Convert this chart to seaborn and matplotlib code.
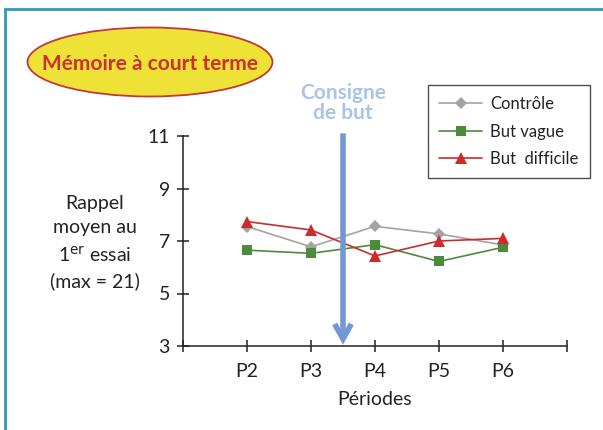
import matplotlib
matplotlib.use("Agg")
import matplotlib.pyplot as plt
from matplotlib.patches import Ellipse
from matplotlib.lines import Line2D
import pandas as pd
import seaborn as sns

# Recall scores per period for each goal condition
periods = ["P2", "P3", "P4", "P5", "P6"]
controle = [7.55, 6.78, 7.56, 7.27, 6.85]
but_vague = [6.65, 6.53, 6.86, 6.22, 6.76]
but_difficile = [7.74, 7.42, 6.43, 7.00, 7.10]
series_names = ["Contrôle", "But vague", "But  difficile"]
y_ticks = [3, 5, 7, 9, 11]

sns.set_theme(style="white")
plt.rcParams["font.family"] = ["Lato", "DejaVu Sans"]

df = pd.DataFrame({
    "Période": periods * 3,
    "Rappel": controle + but_vague + but_difficile,
    "Groupe": [series_names[0]] * 5 + [series_names[1]] * 5 + [series_names[2]] * 5,
})

fig = plt.figure(figsize=(6.03, 4.30), dpi=100)
ax = fig.add_axes([183 / 603, 1 - 346 / 430, (567 - 183) / 603, (346 - 136) / 430])

palette = {series_names[0]: "#a3a3a3", series_names[1]: "#4b8b3b", series_names[2]: "#cc2b2b"}
markers = {series_names[0]: "D", series_names[1]: "s", series_names[2]: "^"}
sizes = {series_names[0]: 6, series_names[1]: 7, series_names[2]: 9}

sns.lineplot(data=df, x="Période", y="Rappel", hue="Groupe", style="Groupe",
             palette=palette, markers=markers, dashes=False, linewidth=1.2,
             markersize=7, markeredgewidth=0, ax=ax, legend=False, sort=False)
for line, name in zip(ax.lines, series_names):
    line.set_markersize(sizes[name])

ax.set_xlim(-1, 5)
ax.set_ylim(3, 11)
ax.set_xticks(range(-1, 6))
ax.set_xticklabels([""] + periods + [""], fontsize=14, color="#222222")
ax.set_yticks(y_ticks)
ax.set_yticklabels([str(v) for v in y_ticks], fontsize=14, color="#222222")
ax.tick_params(axis="both", direction="inout", length=9, width=1.1, color="#222222",
               bottom=True, left=True, pad=5)
ax.tick_params(axis="x", pad=8)
for s in ["top", "right"]:
    ax.spines[s].set_visible(False)
for s in ["left", "bottom"]:
    ax.spines[s].set_color("#222222")
    ax.spines[s].set_linewidth(1.1)
ax.set_xlabel("Périodes", fontsize=14, color="#222222", labelpad=8)
ax.set_ylabel("")
ax.patch.set_alpha(0)

# Multi-line y label to the left of the axis
fig.text(95 / 603, 1 - 243 / 430,
         "Rappel\nmoyen au\n1$^{\\mathrm{er}}$ essai\n(max = 21)",
         ha="center", va="center", fontsize=14, color="#222222", linespacing=1.5)

# Arrow marking the goal instruction between P3 and P4
ax.annotate("", xy=(1.5, 3.05), xytext=(1.5, 11.1), xycoords="data",
            arrowprops=dict(arrowstyle="->,head_length=0.9,head_width=0.5",
                            color="#7297d4", lw=4, shrinkA=0, shrinkB=0,
                            joinstyle="miter", capstyle="butt"),
            annotation_clip=False)
fig.text(343 / 603, 1 - 103 / 430, "Consigne\nde but", ha="center", va="center",
         fontsize=15, fontweight="bold", color="#a9c4ea", linespacing=1.0)

# Title badge
ell = Ellipse((150 / 603, 1 - 62 / 430), 245 / 603, 69 / 430, transform=fig.transFigure,
              facecolor="#efe236", edgecolor="#c0393a", linewidth=1.3, zorder=1)
fig.patches.append(ell)
fig.text(150 / 603, 1 - 64 / 430, "Mémoire à court terme", ha="center", va="center",
         fontsize=15, fontweight="bold", color="#cc3030", zorder=2)

# Outer frame
frame = plt.Rectangle((5 / 603, -0.05), 1.0, 1 - 9 / 430 + 0.05, transform=fig.transFigure,
                      fill=False, edgecolor="#2a9bb8", linewidth=2)
fig.patches.append(frame)

# Legend
handles = [Line2D([], [], color=palette[n], marker=markers[n], markersize=sizes[n],
                  markeredgewidth=0, linewidth=1.2) for n in series_names]
leg = fig.legend(handles, series_names, loc="upper left",
                 bbox_to_anchor=(428 / 603, 1 - 85 / 430), fontsize=12,
                 frameon=True, fancybox=False, edgecolor="#222222", handlelength=2.6,
                 labelspacing=0.7, borderpad=0.65, handletextpad=0.5, borderaxespad=0)
leg.get_frame().set_linewidth(1.0)
for t in leg.get_texts():
    t.set_color("#222222")

fig.savefig("out.png", dpi=100, facecolor="white")
